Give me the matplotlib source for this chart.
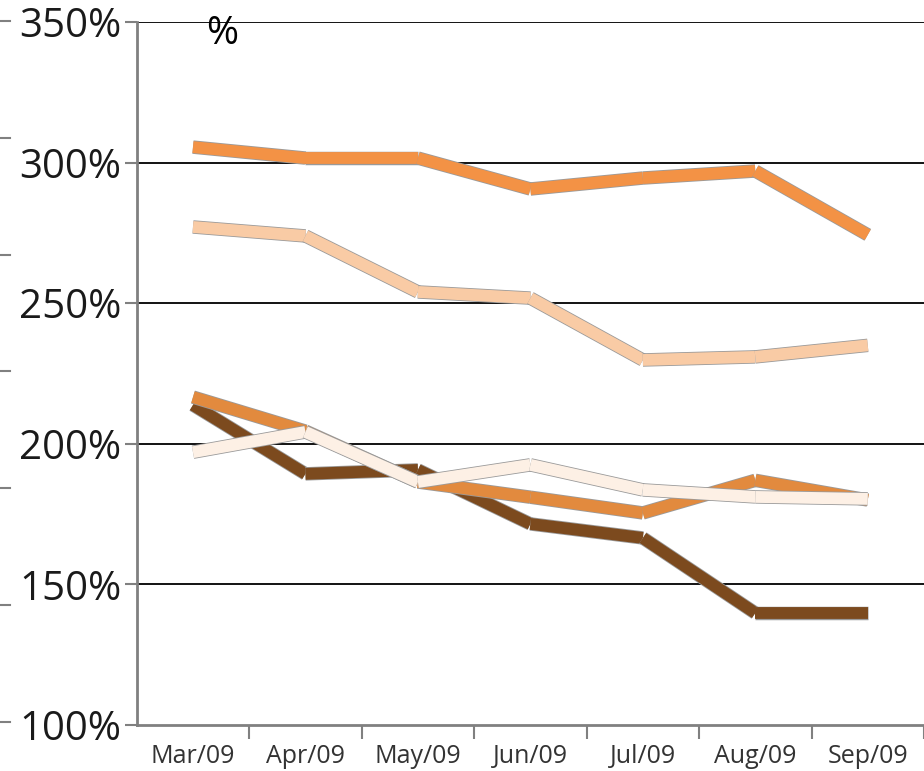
import matplotlib
matplotlib.use('Agg')
import matplotlib.pyplot as plt
import matplotlib.patheffects as pe
from matplotlib.lines import Line2D
import numpy as np

plt.rcParams['font.family'] = ['Open Sans', 'DejaVu Sans']

months = ['Mar/09', 'Apr/09', 'May/09', 'Jun/09', 'Jul/09', 'Aug/09', 'Sep/09']

# values, in %
s_top = [305.5, 301.6, 301.6, 290.6, 294.5, 297.0, 274.3]
s_peach = [277.1, 273.9, 254.0, 251.8, 229.8, 230.9, 235.0]
s_brown = [213.8, 189.3, 190.7, 171.5, 166.5, 139.8, 139.8]
s_orange = [216.6, 204.5, 186.4, 181.0, 175.4, 187.0, 180.0]
s_cream = [197.0, 204.2, 186.4, 192.5, 183.6, 181.1, 180.4]

series = [
    (s_top, '#F39245'),
    (s_peach, '#F9CBA5'),
    (s_brown, '#7C4A1E'),
    (s_orange, '#E28A3E'),
    (s_cream, '#FDF0E5'),
]

fig = plt.figure(figsize=(9.24, 7.71), dpi=100)
ax = fig.add_axes([0.148, 0.0597, 0.852, 0.9118])

x = np.arange(len(months)) + 0.5
lw = 8.5
for vals, col in series:
    for i in range(len(vals) - 1):
        ax.plot(x[i:i + 2], vals[i:i + 2], color=col, lw=lw,
                solid_capstyle='butt', zorder=3,
                path_effects=[pe.Stroke(linewidth=lw + 1.2, foreground='#9a9a9a'),
                              pe.Normal()])

ax.set_xlim(0, 7)
ax.set_ylim(100, 350)

# gridlines
for g in [150, 200, 250, 300, 350]:
    ax.axhline(g, color='black', lw=1.3, zorder=1)

ax.set_yticks([100, 150, 200, 250, 300, 350])
ax.set_yticklabels(['100%', '150%', '200%', '250%', '300%', '350%'], fontsize=29, color='#1a1a1a')
ax.tick_params(axis='y', length=9, width=1.5, color='#808080', pad=2)

ax.set_xticks(range(1, 8))
ax.set_xticklabels([])
ax.set_xticks(x, minor=True)
ax.set_xticklabels(months, minor=True, fontsize=18, color='#333333')
ax.tick_params(axis='x', which='major', length=10, width=1.5, color='#808080', direction='out')
ax.tick_params(axis='x', which='minor', length=0, pad=14)

for side in ['top', 'right']:
    ax.spines[side].set_visible(False)
ax.spines['left'].set_color('#808080')
ax.spines['left'].set_linewidth(2)
ax.spines['bottom'].set_color('#808080')
ax.spines['bottom'].set_linewidth(2)

ax.text(0.108, 0.983, '%', transform=ax.transAxes, fontsize=28, va='center', ha='center')

# stray tick marks at the far left edge
for yp in [21, 138, 255, 371, 488, 605, 722]:
    yf = 1 - yp / 771
    fig.add_artist(Line2D([0, 0.011], [yf, yf], color='#808080', lw=1.5))

fig.savefig('out.png', dpi=100)
